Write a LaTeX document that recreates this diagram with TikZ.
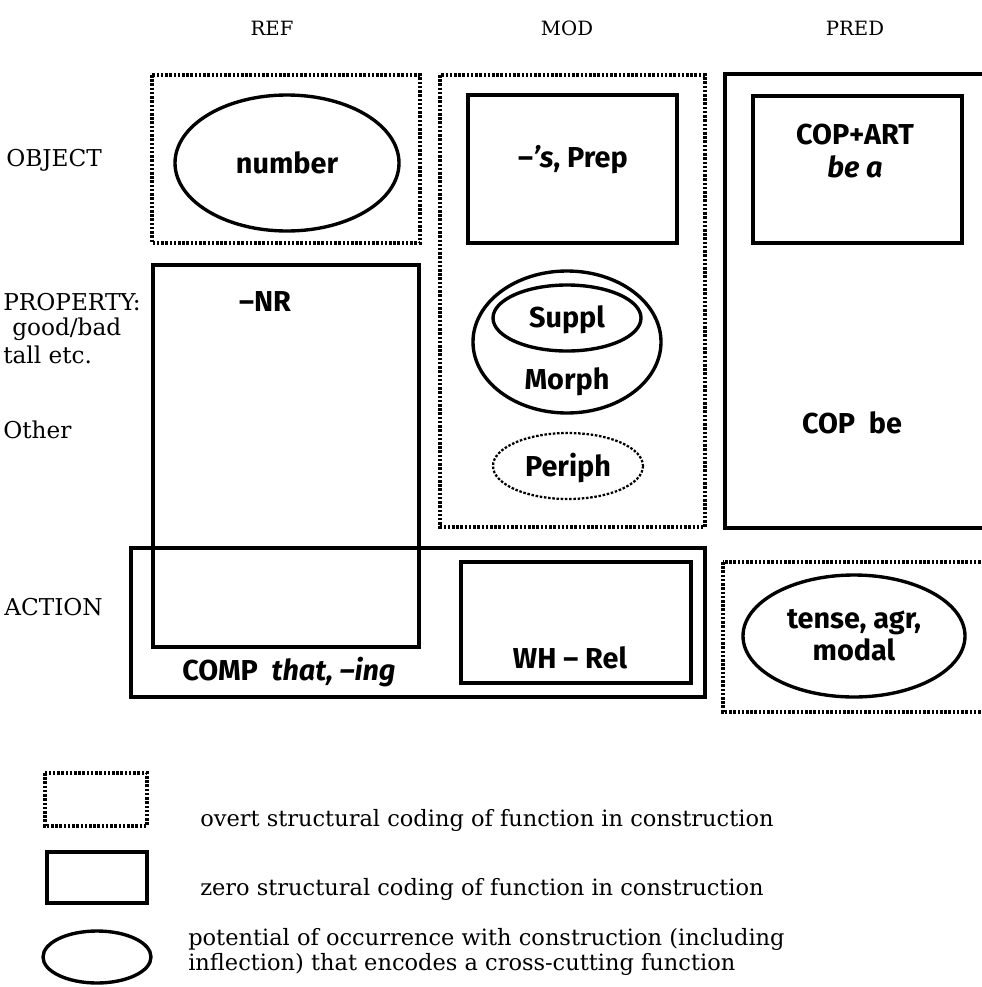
\documentclass[tikz,border=0pt]{standalone}
\usepackage{fontspec}
\setmainfont{DejaVu Serif}
\newfontfamily\boxfont{Fira Sans}
\usetikzlibrary{positioning}

\begin{document}
\begin{tikzpicture}[x=0.025cm,y=-0.025cm,
    overt/.style={line width=2.2pt,dash pattern=on 1.8pt off 1.2pt},
    zero/.style={line width=2.4pt},
    boxtext/.style={font=\boxfont\bfseries\fontsize{20.5}{23}\selectfont,align=center,inner sep=0pt},
    coltext/.style={font=\fontsize{14}{16}\selectfont,inner sep=0pt},
    rowtext/.style={font=\fontsize{16.5}{18}\selectfont,anchor=west,inner sep=0pt},
    legtext/.style={font=\fontsize{16}{18}\selectfont,anchor=west,align=left,inner sep=0pt}]
\useasboundingbox (0,0) rectangle (981,987);

\node[coltext] (ref) at (272,28) {REF};
\node[coltext] (mod) at (567,28) {MOD};
\node[coltext] (pred) at (855,28) {PRED};

\node[rowtext] (object) at (6,160) {OBJECT};
\node[rowtext] (property) at (3,302) {PROPERTY:};
\node[rowtext] (goodbad) at (12,329) {good/bad};
\node[rowtext] (tall) at (3,355) {tall etc.};
\node[rowtext] (other) at (3,430) {Other};
\node[rowtext] (action) at (4,607) {ACTION};

% REF column
\draw[overt] (152,75) rectangle (420,243);
\draw[zero] (287,163) ellipse [x radius=112, y radius=68];
\node[boxtext] (number) at (287,163) {number};
\draw[zero] (153,265) rectangle (419,647);
\node[boxtext] (nr) at (265,302) {–NR};

% MOD column
\draw[overt] (440,75) rectangle (705,527);
\draw[zero] (468,95) rectangle (677,243);
\node[boxtext] (prep) at (573,160) {–\textit{’s}, Prep};
\draw[zero] (567,342) ellipse [x radius=94, y radius=71];
\draw[zero] (567,318) ellipse [x radius=74, y radius=33];
\node[boxtext] (suppl) at (567,320) {Suppl};
\node[boxtext] (morph) at (567,382) {Morph};
\draw[overt,line width=1.6pt] (568,466) ellipse [x radius=75, y radius=33];
\node[boxtext] (periph) at (568,468) {Periph};

% PRED column
\draw[zero] (725,74) rectangle (995,528);
\draw[zero] (753,96) rectangle (962,243);
\node[boxtext] (copart) at (855,151) {COP+ART\\\textit{be a}};
\node[boxtext] (copbe) at (852,423) {COP\ \ be};

% ACTION row
\draw[zero] (131,548) rectangle (705,697);
\draw[zero] (461,562) rectangle (691,683);
\node[boxtext] (comp) at (289,672) {COMP\ \ \textit{that, –ing}};
\node[boxtext] (whrel) at (570,658) {WH – Rel};
\draw[overt] (723,562) rectangle (995,712);
\draw[zero] (854,636) ellipse [x radius=111, y radius=61];
\node[boxtext] (tense) at (854,635) {tense, agr,\\modal};

% legend
\draw[overt] (45,773) rectangle (147,826);
\draw[zero] (47,852) rectangle (147,903);
\draw[zero] (97,957) ellipse [x radius=54, y radius=26];
\node[legtext] (overttext) at (200,820) {overt structural coding of function in construction};
\node[legtext] (zerotext) at (200,889) {zero structural coding of function in construction};
\node[legtext] (potential) at (188,952) {potential of occurrence with construction (including\\inflection) that encodes a cross-cutting function};
\end{tikzpicture}
\end{document}
